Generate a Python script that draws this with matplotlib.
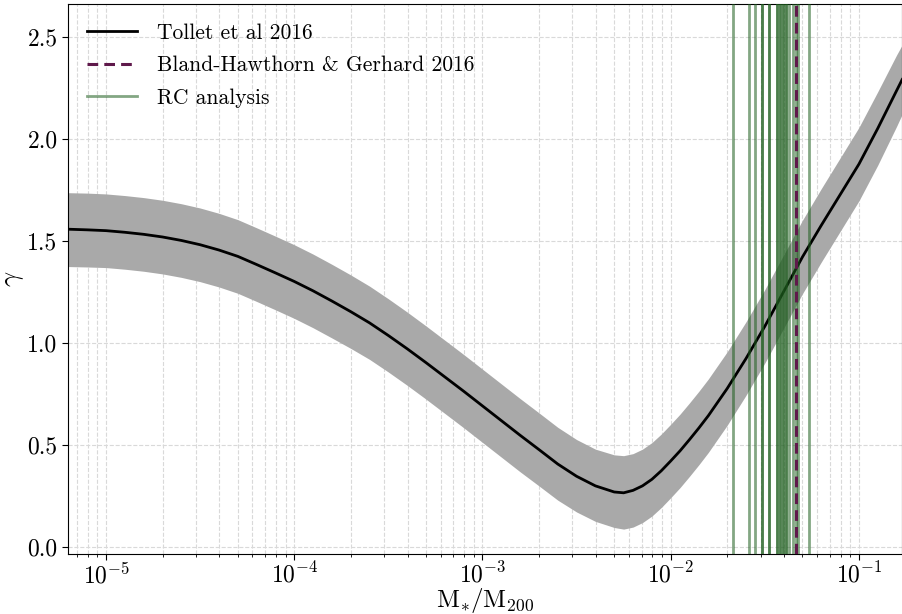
import numpy as np
import matplotlib
matplotlib.use("Agg")
import matplotlib.pyplot as plt

plt.rcParams["font.family"] = "serif"
plt.rcParams["font.serif"] = ["cmr10", "DejaVu Serif"]
plt.rcParams["mathtext.fontset"] = "cm"
plt.rcParams["axes.formatter.use_mathtext"] = True

# Tollet et al 2016 relation: log10(M*/M200), gamma and its 1-sigma band
log_ratio = [-5.20, -5.10, -5.00, -4.90, -4.80, -4.70, -4.60, -4.50, -4.40, -4.30,
             -4.20, -4.10, -4.00, -3.90, -3.80, -3.70, -3.60, -3.50, -3.40, -3.30,
             -3.20, -3.10, -3.00, -2.90, -2.80, -2.70, -2.60, -2.50, -2.40, -2.30,
             -2.25, -2.20, -2.15, -2.10, -2.05, -2.00, -1.95, -1.90, -1.85, -1.80,
             -1.70, -1.60, -1.50, -1.40, -1.30, -1.20, -1.10, -1.00, -0.90, -0.80,
             -0.77]
gamma = [1.556, 1.553, 1.549, 1.541, 1.531, 1.518, 1.501, 1.480, 1.454, 1.423,
         1.383, 1.342, 1.300, 1.254, 1.204, 1.152, 1.097, 1.035, 0.970, 0.902,
         0.832, 0.762, 0.690, 0.618, 0.546, 0.476, 0.405, 0.345, 0.298, 0.268,
         0.264, 0.276, 0.298, 0.330, 0.372, 0.420, 0.470, 0.525, 0.582, 0.642,
         0.775, 0.922, 1.080, 1.250, 1.420, 1.575, 1.725, 1.875, 2.050, 2.235,
         2.290]
gamma_lo = [1.373, 1.371, 1.368, 1.360, 1.350, 1.337, 1.320, 1.299, 1.273, 1.242,
            1.202, 1.161, 1.119, 1.073, 1.023, 0.972, 0.918, 0.856, 0.791, 0.723,
            0.653, 0.583, 0.511, 0.439, 0.367, 0.298, 0.228, 0.170, 0.124, 0.094,
            0.086, 0.096, 0.118, 0.150, 0.192, 0.240, 0.290, 0.345, 0.402, 0.462,
            0.595, 0.742, 0.900, 1.070, 1.240, 1.395, 1.545, 1.695, 1.870, 2.060,
            2.120]
gamma_hi = [1.735, 1.733, 1.729, 1.721, 1.711, 1.698, 1.681, 1.660, 1.634, 1.603,
            1.563, 1.522, 1.480, 1.434, 1.384, 1.332, 1.277, 1.215, 1.150, 1.082,
            1.012, 0.942, 0.870, 0.798, 0.726, 0.656, 0.585, 0.525, 0.478, 0.450,
            0.446, 0.456, 0.478, 0.510, 0.552, 0.600, 0.650, 0.705, 0.762, 0.822,
            0.955, 1.102, 1.260, 1.430, 1.600, 1.755, 1.905, 2.055, 2.230, 2.410,
            2.460]

# Milky Way value (Bland-Hawthorn & Gerhard 2016)
bhg_ratio = 0.0461

# rotation-curve fits
rc_ratios = [0.02145, 0.02609, 0.02809, 0.03041, 0.03041, 0.03310, 0.03310,
             0.03663, 0.03663, 0.03800, 0.03800, 0.03942, 0.03942, 0.04090,
             0.04090, 0.04259, 0.04441, 0.04610, 0.04755, 0.05440]

x = 10 ** np.array(log_ratio)

fig = plt.figure(figsize=(9.03, 6.14), dpi=100)
ax = fig.add_axes([0.0753, 0.0977, 0.9236, 0.8958])

ax.fill_between(x, gamma_lo, gamma_hi, color="#a9a9a9", lw=0, zorder=1)
ax.plot(x, gamma, color="black", lw=2.0, zorder=2, label="Tollet et al 2016")

for i, r in enumerate(rc_ratios):
    ax.axvline(r, color="#1e5e1e", alpha=0.55, lw=2.0, zorder=3,
               label="RC analysis" if i == 0 else None)
ax.axvline(bhg_ratio, color="#5f194b", lw=2.2, ls=(0, (3.5, 2.0)), zorder=4,
           label="Bland-Hawthorn & Gerhard 2016")

ax.set_xscale("log")
ax.set_xlim(6.28e-6, 0.1694)
ax.set_ylim(-0.036, 2.66)
ax.set_yticks([0.0, 0.5, 1.0, 1.5, 2.0, 2.5])
ax.set_yticklabels(["0.0", "0.5", "1.0", "1.5", "2.0", "2.5"])

ax.grid(True, which="both", axis="x", ls="--", color="#d9d9d9", lw=0.8)
ax.grid(True, which="major", axis="y", ls="--", color="#d9d9d9", lw=0.8)
ax.set_axisbelow(True)
ax.tick_params(axis="both", which="major", labelsize=17, length=4)
ax.tick_params(axis="x", which="major", pad=2)
ax.tick_params(axis="x", which="minor", length=2.5)

ax.set_xlabel(r"$\mathrm{M_{*}/M_{200}}$", fontsize=18, labelpad=-1)
ax.set_ylabel(r"$\gamma$", fontsize=19, labelpad=1)

handles, labels = ax.get_legend_handles_labels()
order = [labels.index("Tollet et al 2016"),
         labels.index("Bland-Hawthorn & Gerhard 2016"),
         labels.index("RC analysis")]
ax.legend([handles[i] for i in order], [labels[i] for i in order],
          loc="upper left", frameon=False, fontsize=15.5, handlelength=2.3,
          handletextpad=0.95, labelspacing=0.6)

fig.savefig("out.png", dpi=100)
